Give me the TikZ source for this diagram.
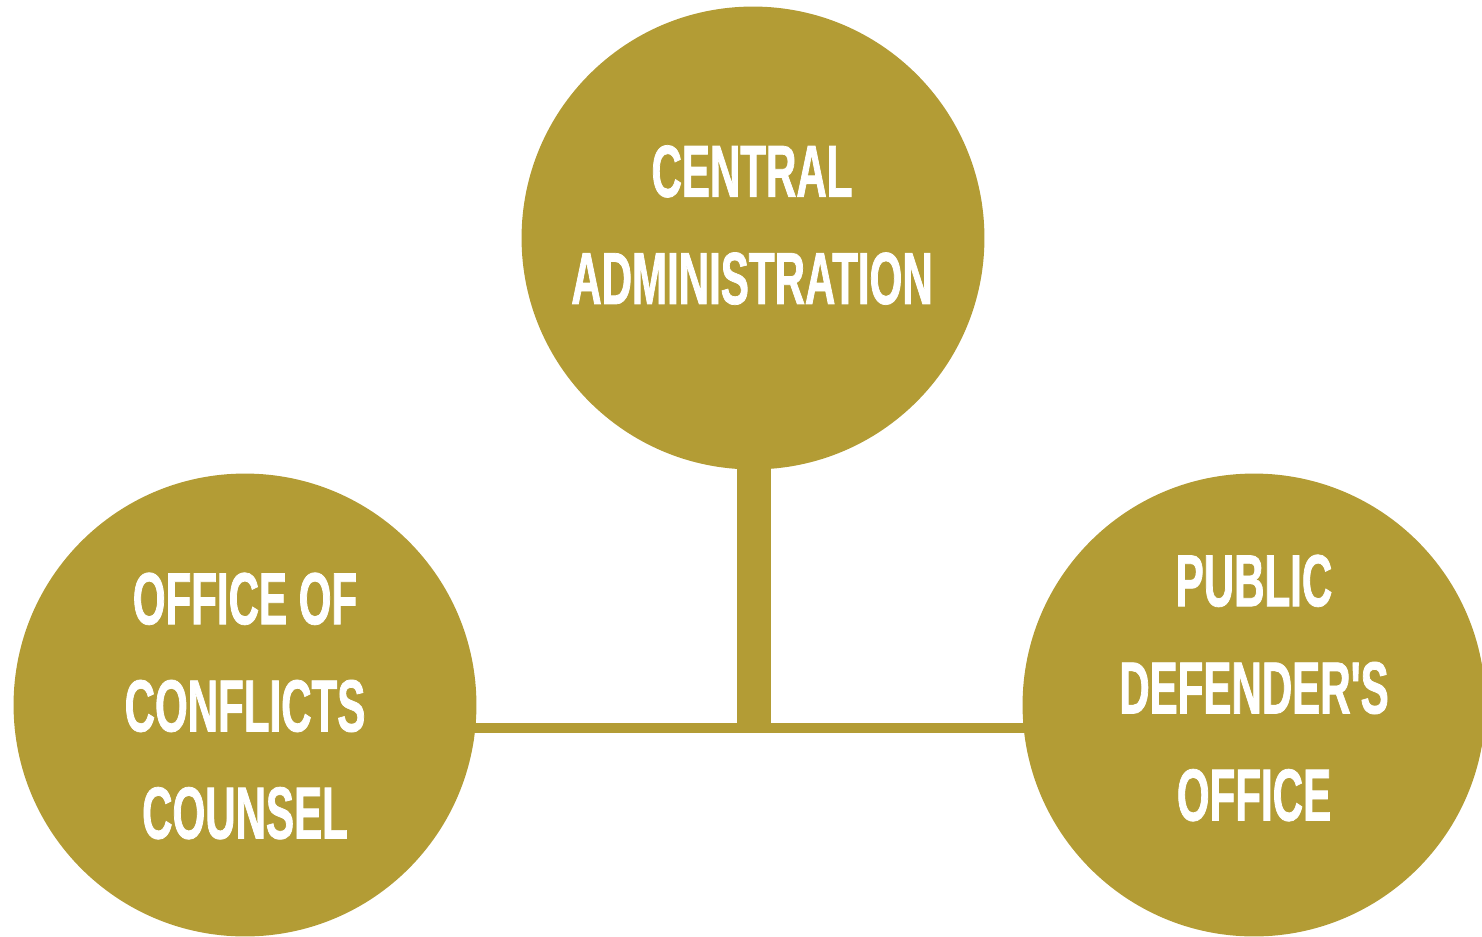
\documentclass[tikz,border=0pt]{standalone}
\usepackage{fontspec}
\newfontfamily\officefont[FakeStretch=0.57,FakeBold=1]{Liberation Sans Bold}
\usetikzlibrary{backgrounds}
\definecolor{gold}{RGB}{179,156,53}
\tikzset{
	office/.style={circle,fill=gold,inner sep=0pt,minimum size=9.26cm},
	officename/.style={text=white,align=center,inner sep=0pt,
		font=\officefont\fontsize{42}{61}\selectfont},
	trunk/.style={gold,line width=0.68cm},
	branch/.style={gold,line width=0.2cm}
}
\begin{document}
	\begin{tikzpicture}[x=0.02cm,y=-0.02cm]
		\useasboundingbox(0,0)rectangle(1482,937);
		\node[office](central)at(753,238){};
		\node[office](conflicts)at(245,705){};
		\node[office](defender)at(1254,705){};
		\coordinate(hub)at(754,728);
		\node[officename](centraltext)at(752,225){CENTRAL\\ADMINISTRATION};
		\node[officename](conflictstext)at(245,706){OFFICE OF\\CONFLICTS\\COUNSEL};
		\node[officename](defendertext)at(1254,688){PUBLIC\\DEFENDER'S\\OFFICE};
		\begin{scope}[on background layer]
			\draw[trunk](central.center-|hub)--(hub);
			\draw[branch](conflicts.center|-hub)--(defender.center|-hub);
		\end{scope}
	\end{tikzpicture}
\end{document}
